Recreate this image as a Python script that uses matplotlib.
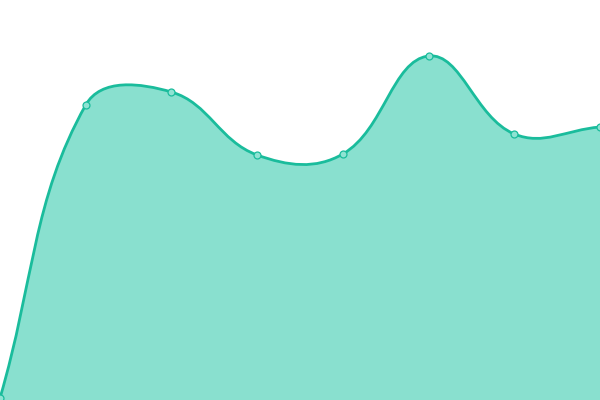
import matplotlib
matplotlib.use("Agg")
import matplotlib.pyplot as plt
import numpy as np
from matplotlib.path import Path
from matplotlib.patches import PathPatch

# data
categories = ["A", "B", "C", "D", "E", "F", "G", "H"]
values = [2, 295, 308, 245, 246, 344, 266, 273]

W, H = 600, 400
line_color = "#1abc9c"
fill_color = "#89e0cf"


def smooth_path(xs, ys, smooth=0.4):
    # bezier control points, same idea as echarts' smooth line
    pts = np.column_stack([xs, ys]).astype(float)
    n = len(pts)
    cps = []
    for i in range(n):
        cur = pts[i]
        prev = pts[i - 1] if i > 0 else cur
        nxt = pts[i + 1] if i < n - 1 else cur
        v = nxt - prev
        d0 = np.hypot(*(cur - prev))
        d1 = np.hypot(*(cur - nxt))
        s = d0 + d1
        if s == 0:
            cps.append((cur, cur))
            continue
        cps.append((cur - v * smooth * d0 / s, cur + v * smooth * d1 / s))
    verts = [pts[0]]
    codes = [Path.MOVETO]
    for i in range(n - 1):
        verts += [cps[i][1], cps[i + 1][0], pts[i + 1]]
        codes += [Path.CURVE4] * 3
    return verts, codes


fig = plt.figure(figsize=(6, 4), dpi=100)
ax = fig.add_axes([0, 0, 1, 1])
ax.set_xlim(0, W)
ax.set_ylim(0, H)
ax.axis("off")

xs = np.arange(len(categories)) * W / (len(categories) - 1)
verts, codes = smooth_path(xs, values)

fill_verts = verts + [(xs[-1], 0), (xs[0], 0), verts[0]]
fill_codes = codes + [Path.LINETO, Path.LINETO, Path.CLOSEPOLY]
ax.add_patch(PathPatch(Path(fill_verts, fill_codes), facecolor=fill_color,
                       edgecolor="none", zorder=1))
ax.add_patch(PathPatch(Path(verts, codes), facecolor="none",
                       edgecolor=line_color, linewidth=2.0, zorder=2,
                       capstyle="round", joinstyle="round"))
ax.plot(xs, values, "o", markersize=5, markerfacecolor="#8fe3d3",
        markeredgecolor=line_color, markeredgewidth=0.9, zorder=3,
        clip_on=True)

fig.savefig("out.png", dpi=100)
